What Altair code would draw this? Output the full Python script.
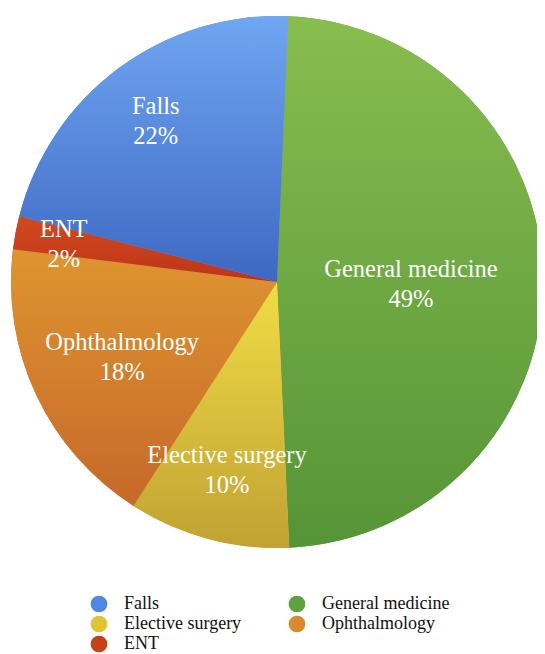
import altair as alt
import pandas as pd

# Slices in drawing order (clockwise from 12 o'clock)
categories = ["General medicine", "Elective surgery", "Ophthalmology", "ENT", "Falls"]
shares = [48.6, 9.8, 17.9, 2.0, 21.7]

# Legend order and solid colours
legend_order = ["Falls", "General medicine", "Elective surgery", "Ophthalmology", "ENT"]
legend_colors = ["#4f88e2", "#5fa13e", "#dfc533", "#da8a2c", "#c6401b"]

# Per-slice vertical gradient (top -> bottom), same order as categories
grad_top = ["#88bd4f", "#f1dc45", "#de9530", "#d24a1e", "#70a6f2"]
grad_bottom = ["#559437", "#c0a233", "#c7682a", "#bd3419", "#3d68c3"]

# label distance from centre, same order as categories
label_radius = [134, 193, 171, 217, 203]

START = 0.042  # slight clockwise rotation of first slice (radians)
CX, CY, R = 269, 274, 266

df = pd.DataFrame({"category": categories, "share": shares, "order": list(range(len(categories)))})

base = (
    alt.Chart(df)
    .transform_joinaggregate(total="sum(share)")
    .transform_window(cum="sum(share)", sort=[alt.SortField("order")], frame=[None, 0])
    .transform_calculate(
        t0=f"{START} + 2*PI*(datum.cum - datum.share)/datum.total",
        t1=f"{START} + 2*PI*datum.cum/datum.total",
    )
    .transform_calculate(
        tm="(datum.t0 + datum.t1)/2",
        label="datum.category + '\\n' + format(datum.share, '.0f') + '%'",
    )
)

arcs = base.mark_arc(radius=R).encode(
    theta=alt.Theta("t0:Q", scale=None),
    theta2="t1:Q",
    x=alt.value(CX),
    y=alt.value(CY),
    color=alt.Color(
        "category:N",
        scale=alt.Scale(domain=legend_order, range=legend_colors),
        legend=alt.Legend(
            title=None,
            orient="none",
            legendX=82,
            legendY=587,
            direction="horizontal",
            columns=2,
            symbolType="circle",
            symbolSize=280,
            symbolStrokeWidth=0,
            symbolOpacity=1,
            labelFont="Liberation Serif",
            labelFontSize=18,
            labelColor="#111111",
            labelOffset=16,
            labelLimit=300,
            columnPadding=46,
            rowPadding=2,
            padding=0,
        ),
    ),
)

layers = [arcs]
for i, cat in enumerate(categories):
    grad = alt.LinearGradient(
        gradient="linear",
        stops=[
            alt.GradientStop(color=grad_top[i], offset=0),
            alt.GradientStop(color=grad_bottom[i], offset=1),
        ],
        x1=0, x2=0, y1=0, y2=1,
    )
    layers.append(
        base.transform_filter(alt.datum.category == cat)
        .mark_arc(radius=R, fill=grad)
        .encode(
            theta=alt.Theta("t0:Q", scale=None),
            theta2="t1:Q",
            x=alt.value(CX),
            y=alt.value(CY),
        )
    )

for i, cat in enumerate(categories):
    layers.append(
        base.transform_filter(alt.datum.category == cat)
        .mark_text(
            radius=label_radius[i],
            font="Liberation Serif",
            fontSize=24.5,
            color="white",
            lineBreak="\n",
            lineHeight=30,
            dy=-12,
            align="center",
            baseline="middle",
        )
        .encode(
            theta=alt.Theta("tm:Q", scale=None),
            text="label:N",
            x=alt.value(CX),
            y=alt.value(CY),
        )
    )

chart = (
    alt.layer(*layers)
    .properties(
        width=529,
        height=646,
        padding=0,
        autosize=alt.AutoSizeParams(type="none"),
        background="white",
    )
    .configure_view(stroke=None)
    .configure_legend(labelFont="Liberation Serif", labelFontSize=18)
)

chart.save("out.html", embed_options={"renderer": "svg", "actions": False})
